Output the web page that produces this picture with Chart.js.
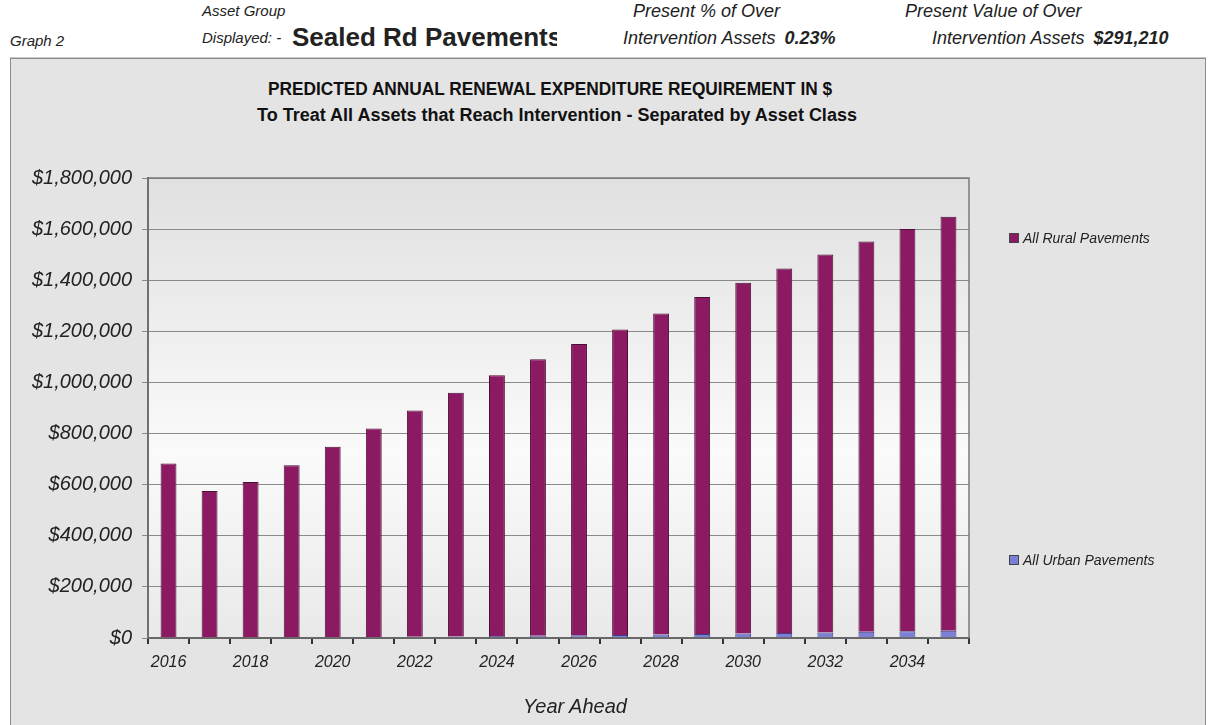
<!DOCTYPE html>
<html>
<head>
<meta charset="utf-8">
<script src="https://cdn.jsdelivr.net/npm/chart.js@4/dist/chart.umd.min.js"></script>
<style>
  body { margin: 0; background: #fff; font-family: "Liberation Sans", Arial, sans-serif; width: 1210px; height: 725px; overflow: hidden; position: relative; }
  .t { position: absolute; white-space: nowrap; color: #222; font-style: italic; font-size: 15px; line-height: 18px; }
  .r { font-size: 18px; line-height: 20px; }
  .b { font-weight: bold; }
  #frame { position: absolute; left: 10px; top: 58px; width: 1194px; height: 680px; background: #e4e4e4; border: 1px solid #8a8a8a; box-shadow: 0 -1px 0 #c8c8c8; }
  #chart { position: absolute; left: 0; top: 0; }
  .ttl { position: absolute; width: 1100px; text-align: center; font-weight: bold; color: #111; font-size: 18px; line-height: 20px; }
  .leg { position: absolute; font-style: italic; font-size: 14px; line-height: 16px; color: #222; white-space: nowrap; }
  .leg i { display: inline-block; width: 8px; height: 8px; margin-right: 4px; border: 1px solid #444; }
  #xtitle { position: absolute; left: 464px; width: 200px; top: 635px; text-align: center; font-style: italic; font-size: 20px; line-height: 24px; color: #222; }
</style>
</head>
<body>
<div class="t" style="left:10px;top:32px;">Graph 2</div>
<div class="t" style="left:202px;top:2px;">Asset Group</div>
<div class="t" style="left:202px;top:29px;">Displayed: -</div>
<div class="t b" style="left:292px;top:23px;font-size:26px;line-height:28px;font-style:normal;width:265px;overflow:hidden;">Sealed Rd Pavements</div>
<div class="t r" style="left:633px;top:1px;">Present % of Over</div>
<div class="t r" style="left:623px;top:28px;">Intervention Assets <span class="b" style="margin-left:4px">0.23%</span></div>
<div class="t r" style="left:905px;top:1px;">Present Value of Over</div>
<div class="t r" style="left:932px;top:28px;">Intervention Assets <span class="b" style="margin-left:4px">$291,210</span></div>

<div id="frame">
  <div class="ttl" style="left:-11px;top:20px;transform:scaleX(0.96);">PREDICTED ANNUAL RENEWAL EXPENDITURE REQUIREMENT IN $</div>
  <div class="ttl" style="left:-4px;top:46px;">To Treat All Assets that Reach Intervention - Separated by Asset Class</div>
  <canvas id="chart" width="1194" height="667"></canvas>
  <div class="leg" style="left:998px;top:171px;"><i style="background:#8b1a63"></i>All Rural Pavements</div>
  <div class="leg" style="left:998px;top:493px;"><i style="background:#7b7fd6"></i>All Urban Pavements</div>
  <div id="xtitle">Year Ahead</div>
</div>

<script>
const years = ['2016','2017','2018','2019','2020','2021','2022','2023','2024','2025',
               '2026','2027','2028','2029','2030','2031','2032','2033','2034','2035'];
const urbanPavements = [1000, 1500, 2000, 2500, 3000, 4000, 5000, 6000, 7500, 9000,
                        10500, 12000, 14000, 16000, 18000, 20000, 22000, 24000, 26000, 28000];
const ruralPavements = [682000, 573500, 608000, 673500, 745000, 816000, 885000, 954000, 1020500, 1082000,
                        1139500, 1195000, 1256000, 1318000, 1372000, 1426000, 1479000, 1528000, 1574000, 1620000];
const yTicks = [0, 200000, 400000, 600000, 800000, 1000000, 1200000, 1400000, 1600000, 1800000];

// plot background: grey at the top fading to near white, a touch of grey at the bottom
const plotBackground = {
  id: 'plotBackground',
  beforeDraw(chart) {
    const { ctx, chartArea: a } = chart;
    const g = ctx.createLinearGradient(0, a.top, 0, a.bottom);
    g.addColorStop(0, '#e0e0e0');
    g.addColorStop(0.6, '#fafafa');
    g.addColorStop(1, '#e9e9e9');
    ctx.save();
    ctx.fillStyle = g;
    ctx.fillRect(a.left, a.top, a.right - a.left, a.bottom - a.top);
    ctx.restore();
  },
  afterDraw(chart) {
    const { ctx, chartArea: a } = chart;
    ctx.save();
    ctx.strokeStyle = '#7a7a7a';
    ctx.lineWidth = 1.5;
    ctx.strokeRect(a.left, a.top, a.right - a.left, a.bottom - a.top);
    ctx.restore();
  }
};

const ctx = document.getElementById('chart').getContext('2d');
new Chart(ctx, {
  type: 'bar',
  data: {
    labels: years,
    datasets: [
      { label: 'All Urban Pavements', data: urbanPavements, backgroundColor: '#7b7fd6', borderColor: '#3c3f80', borderWidth: 1 },
      { label: 'All Rural Pavements', data: ruralPavements, backgroundColor: '#8b1a63', borderColor: '#4a0f35', borderWidth: 1 }
    ]
  },
  options: {
    responsive: false,
    animation: false,
    barPercentage: 0.9,
    categoryPercentage: 0.43,
    layout: { padding: { left: 0, right: 236, top: 119, bottom: 0 } },
    plugins: { legend: { display: false }, tooltip: { enabled: false } },
    scales: {
      x: {
        stacked: true,
        afterFit(scale) { scale.height = 88; },
        border: { color: '#333', width: 2 },
        grid: { display: true, drawOnChartArea: false, offset: true, tickLength: 6, color: '#333', lineWidth: 2 },
        ticks: {
          autoSkip: false, maxRotation: 0, padding: 9, color: '#222',
          font: { family: 'Liberation Sans', size: 16, style: 'italic' },
          callback(v, i) { return i % 2 === 0 ? years[i] : ''; }
        }
      },
      y: {
        stacked: true,
        min: 0,
        max: yTicks[yTicks.length - 1],
        afterFit(scale) { scale.width = 137; },
        afterBuildTicks(scale) { scale.ticks = yTicks.map(v => ({ value: v })); },
        border: { color: '#555', width: 2 },
        grid: { color: '#8a8a8a', lineWidth: 1, tickLength: 6 },
        ticks: {
          color: '#222', padding: 10,
          font: { family: 'Liberation Sans', size: 20, style: 'italic' },
          callback(v) { return '$' + v.toLocaleString('en-US'); }
        }
      }
    }
  },
  plugins: [plotBackground]
});
</script>
</body>
</html>
